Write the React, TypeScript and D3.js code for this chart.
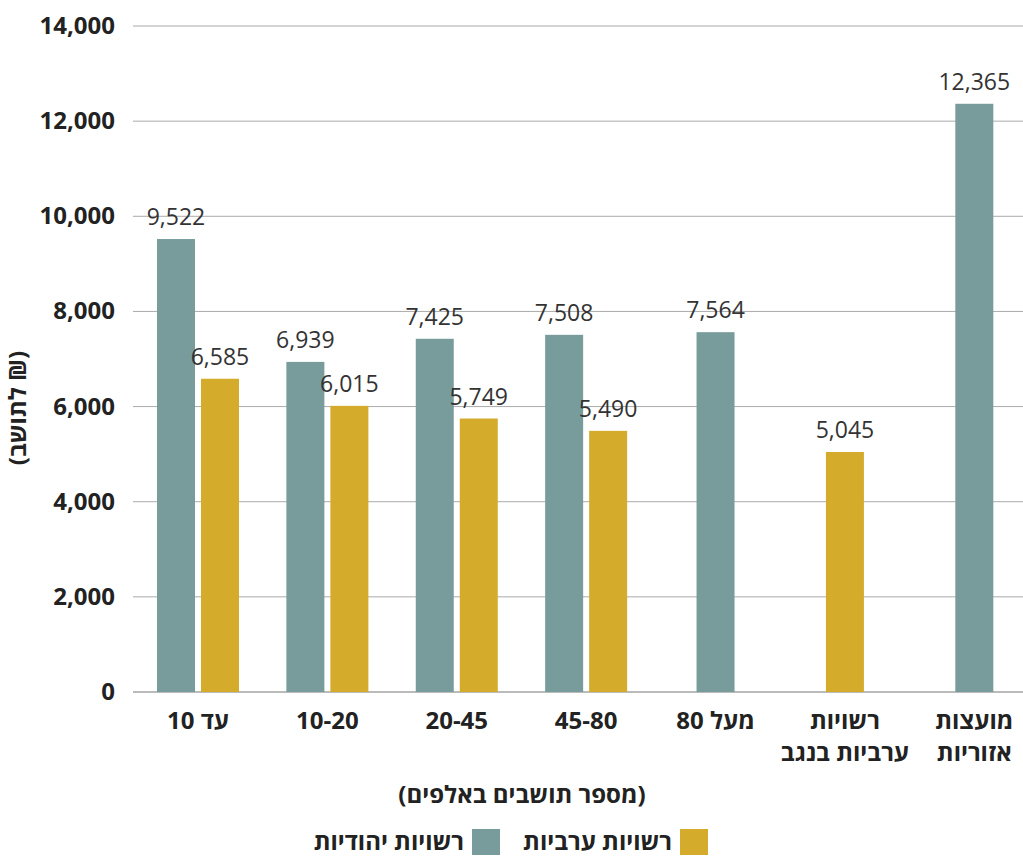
import React from "react";
import * as d3 from "d3";

const categories: string[][] = [
  ["עד 10"],
  ["10-20"],
  ["20-45"],
  ["45-80"],
  ["מעל 80"],
  ["רשויות", "ערביות בנגב"],
  ["מועצות", "אזוריות"],
];
const jewishValues: (number | null)[] = [9522, 6939, 7425, 7508, 7564, null, 12365];
const arabValues: (number | null)[] = [6585, 6015, 5749, 5490, null, 5045, null];
const yTicks: number[] = [0, 2000, 4000, 6000, 8000, 10000, 12000, 14000];
const seriesNames = ["רשויות יהודיות", "רשויות ערביות"];
const colors = ["#789c9c", "#d4ab2b"];

const W = 1023;
const H = 856;
const FONT = "'Open Sans', 'Liberation Sans', 'DejaVu Sans', sans-serif";

export default function App() {
  const x = d3.scaleBand<number>().domain(d3.range(categories.length)).range([133.3, 1039]).paddingInner(0).paddingOuter(0);
  const y = d3.scaleLinear().domain([0, 14000]).range([692, 26]);
  const barW = 38;
  const gap = 6;
  const fmt = d3.format(",");

  const bars: React.ReactNode[] = [];
  categories.forEach((_, i) => {
    const center = x(i)! + x.bandwidth() / 2;
    const vals = [jewishValues[i], arabValues[i]];
    const present = vals.map((v, s) => ({ v, s })).filter((d) => d.v != null);
    const total = present.length * barW + (present.length - 1) * gap;
    present.forEach((d, k) => {
      const bx = center - total / 2 + k * (barW + gap);
      const by = y(d.v as number);
      bars.push(
        <g key={`${i}-${d.s}`}>
          <rect x={bx} y={by} width={barW} height={y(0) - by} fill={colors[d.s]} />
          <text x={bx + barW / 2} y={by - 14} textAnchor="middle" fontSize={23} fill="#333" fontFamily={FONT}>
            {fmt(d.v as number)}
          </text>
        </g>
      );
    });
  });

  return (
    <svg width={W} height={H} style={{ position: "absolute", left: 0, top: 0 }} fontFamily={FONT}>
      <rect width={W} height={H} fill="#fff" />
      {yTicks.map((t) => (
        <g key={t}>
          <line x1={133} x2={W} y1={y(t)} y2={y(t)} stroke={t === 0 ? "#bbb" : "#aaa"} strokeWidth={t === 0 ? 2 : 1} />
          <text x={115} y={y(t) + 8} textAnchor="end" fontSize={24} fontWeight="bold" fill="#222">
            {fmt(t)}
          </text>
        </g>
      ))}
      {bars}
      {categories.map((lines, i) => {
        const center = x(i)! + x.bandwidth() / 2;
        return (
          <g key={i}>
            {lines.map((l, k) => (
              <text key={k} x={center} y={729 + k * 32} textAnchor="middle" fontSize={24} fontWeight="bold" fill="#222" direction="rtl">
                {l}
              </text>
            ))}
          </g>
        );
      })}
      <text x={522} y={803} textAnchor="middle" fontSize={24} fontWeight="bold" fill="#222" direction="rtl">
        (מספר תושבים באלפים)
      </text>
      <text transform="translate(26,408) rotate(-90)" textAnchor="middle" fontSize={24} fontWeight="bold" fill="#222" direction="rtl">
        (₪ לתושב)
      </text>
      {/* legend */}
      <rect x={680} y={829} width={28} height={26} fill={colors[1]} />
      <text x={672} y={850} textAnchor="start" fontSize={24} fontWeight="bold" fill="#222" direction="rtl">
        {seriesNames[1]}
      </text>
      <rect x={472} y={829} width={28} height={26} fill={colors[0]} />
      <text x={464} y={850} textAnchor="start" fontSize={24} fontWeight="bold" fill="#222" direction="rtl">
        {seriesNames[0]}
      </text>
    </svg>
  );
}
